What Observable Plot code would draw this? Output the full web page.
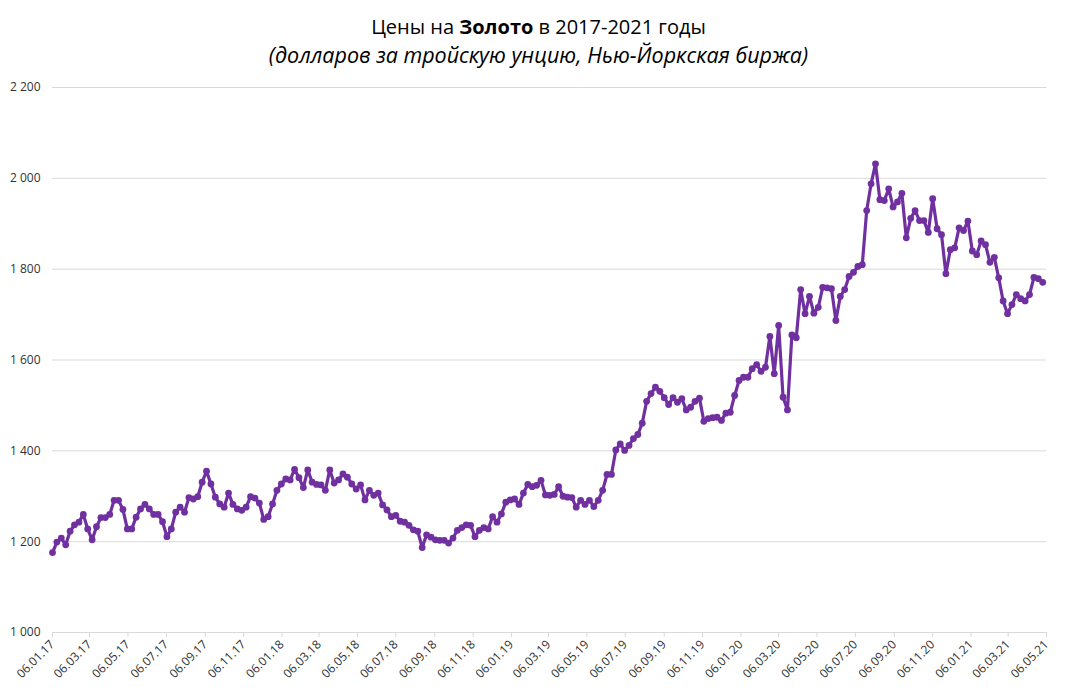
<!DOCTYPE html>
<html>
<head>
<meta charset="utf-8">
<script src="https://cdn.jsdelivr.net/npm/d3@7"></script>
<script src="https://cdn.jsdelivr.net/npm/@observablehq/plot@0.6"></script>
<style>
  html, body { margin: 0; padding: 0; background: #fff; }
  #wrap { width: 1077px; height: 694px; position: relative; overflow: hidden; }
  #title { position: absolute; left: 0; width: 1077px; top: 13px; text-align: center;
           font-family: "Open Sans", sans-serif; font-size: 20px; color: #000; line-height: 28px; }
  #subtitle { position: absolute; left: 0; width: 1077px; top: 41px; text-align: center;
           font-family: "Open Sans", sans-serif; font-style: italic; font-size: 21.5px; color: #000; line-height: 28px; }
  #chart { position: absolute; left: 0; top: 70px; }
</style>
</head>
<body>
<div id="wrap">
  <div id="title">Цены на <b>Золото</b> в 2017-2021 годы</div>
  <div id="subtitle">(долларов за тройскую унцию, Нью-Йоркская биржа)</div>
  <div id="chart"></div>
</div>
<script>
// Weekly gold prices (USD per troy ounce), first week 06.01.2017
const startDate = "2017-01-06";
const prices = [
  1176,1199,1208,1193,1223,1237,1243,1260,1228,1204,
  1233,1253,1253,1260,1291,1291,1271,1228,1228,1254,
  1272,1282,1272,1260,1260,1244,1211,1228,1265,1276,
  1265,1297,1294,1299,1331,1355,1327,1298,1283,1276,
  1307,1282,1272,1269,1276,1299,1296,1285,1249,1255,
  1283,1313,1327,1338,1336,1359,1341,1319,1358,1331,
  1326,1325,1313,1358,1329,1336,1349,1342,1327,1316,
  1325,1292,1313,1302,1307,1281,1270,1255,1258,1245,
  1243,1236,1226,1223,1187,1215,1210,1204,1203,1203,
  1197,1208,1225,1231,1237,1236,1211,1225,1231,1228,
  1255,1243,1261,1287,1292,1294,1282,1307,1326,1321,
  1324,1335,1303,1302,1304,1321,1300,1298,1297,1276,
  1291,1282,1291,1277,1291,1313,1348,1348,1402,1415,
  1401,1412,1427,1436,1461,1509,1526,1540,1531,1517,
  1502,1517,1507,1515,1490,1496,1509,1516,1465,1471,
  1473,1474,1467,1483,1485,1522,1555,1562,1562,1581,
  1590,1575,1584,1652,1570,1676,1518,1490,1655,1649,
  1755,1702,1740,1703,1716,1760,1759,1757,1687,1740,
  1755,1784,1793,1806,1810,1929,1988,2032,1953,1951,
  1977,1937,1948,1967,1869,1912,1929,1907,1907,1881,
  1955,1889,1876,1790,1843,1847,1891,1885,1906,1840,
  1832,1862,1854,1815,1826,1781,1730,1702,1722,1744,
  1735,1730,1744,1782,1779,1771
];
const xTickLabels = [
  "06.01.17","06.03.17","06.05.17","06.07.17","06.09.17","06.11.17",
  "06.01.18","06.03.18","06.05.18","06.07.18","06.09.18","06.11.18",
  "06.01.19","06.03.19","06.05.19","06.07.19","06.09.19","06.11.19",
  "06.01.20","06.03.20","06.05.20","06.07.20","06.09.20","06.11.20",
  "06.01.21","06.03.21","06.05.21"
];
const yTicks = [1000, 1200, 1400, 1600, 1800, 2000, 2200];

const parseTick = d3.utcParse("%d.%m.%y");
const fmtTick = d3.utcFormat("%d.%m.%y");
const start = d3.utcParse("%Y-%m-%d")(startDate);
const data = prices.map((v, i) => ({date: d3.utcDay.offset(start, 7 * i), value: v}));
const xTicks = xTickLabels.map(parseTick);
const ruFmt = d3.formatLocale({decimal: ",", thousands: "\u00a0", grouping: [3], currency: ["", ""]}).format(",");

const chart = Plot.plot({
  width: 1077,
  height: 624,
  marginTop: 17,
  marginBottom: 62,
  marginLeft: 52,
  marginRight: 31,
  style: {fontFamily: "'Open Sans', sans-serif", fontSize: "12px", color: "#333", background: "#fff"},
  x: {type: "utc", domain: [xTicks[0], xTicks[xTicks.length - 1]]},
  y: {domain: [1000, 2200]},
  marks: [
    Plot.gridY(yTicks, {stroke: "#d9d9d9", strokeOpacity: 1, strokeWidth: 1}),
    Plot.axisY(yTicks, {tickSize: 0, tickPadding: 12, tickFormat: ruFmt, label: null, fontSize: 12}),
    Plot.axisX(xTicks, {tickSize: 5, tickPadding: 5, tickRotate: -45, tickFormat: fmtTick, label: null, stroke: "#d9d9d9", fontSize: 12}),
    Plot.line(data, {x: "date", y: "value", stroke: "#7030a0", strokeWidth: 3.2, curve: "linear"}),
    Plot.dot(data, {x: "date", y: "value", fill: "#7030a0", r: 3.4, stroke: "none"})
  ]
});
document.getElementById("chart").appendChild(chart);
</script>
</body>
</html>
